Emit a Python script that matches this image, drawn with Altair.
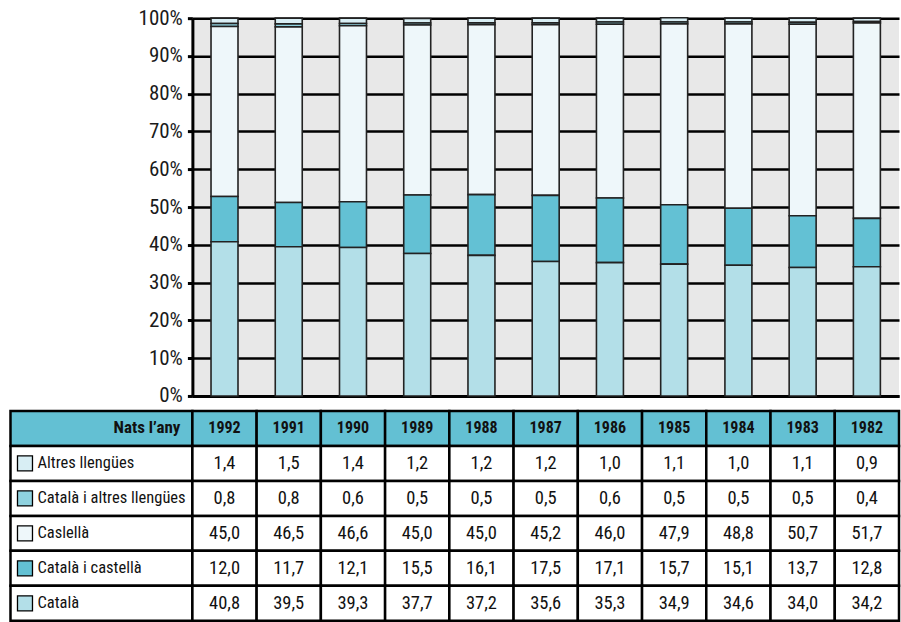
import altair as alt
import pandas as pd

# Year of birth (table columns, left to right)
years = ["1992", "1991", "1990", "1989", "1988", "1987",
         "1986", "1985", "1984", "1983", "1982"]

# Language spoken at home, % of children born each year
altres = [1.4, 1.5, 1.4, 1.2, 1.2, 1.2, 1.0, 1.1, 1.0, 1.1, 0.9]
catala_altres = [0.8, 0.8, 0.6, 0.5, 0.5, 0.5, 0.6, 0.5, 0.5, 0.5, 0.4]
castella = [45.0, 46.5, 46.6, 45.0, 45.0, 45.2, 46.0, 47.9, 48.8, 50.7, 51.7]
catala_castella = [12.0, 11.7, 12.1, 15.5, 16.1, 17.5, 17.1, 15.7, 15.1, 13.7, 12.8]
catala = [40.8, 39.5, 39.3, 37.7, 37.2, 35.6, 35.3, 34.9, 34.6, 34.0, 34.2]

# Table row order (top to bottom) and colours
series = ["Altres llengües", "Català i altres llengües", "Caslellà",
          "Català i castellà", "Català"]
values = [altres, catala_altres, castella, catala_castella, catala]
colors = ["#d8eef4", "#8fd2df", "#eef7fa", "#63c1d4", "#b3dfe8"]
header_label = "Nats l’any"
header_fill = "#63c0d3"

FONT = "Liberation Sans Narrow, Roboto Condensed, DejaVu Sans Condensed, sans-serif"
W = 707           # plot width
H = 378           # plot height
ROW = 35          # table row height
STEP = W / len(years)
LABEL_W = 182 / STEP   # first table column, in column units

# ---- stacked bars -------------------------------------------------------
bar_rows = []
for s_idx, (name, vals) in enumerate(zip(series, values)):
    for y, v in zip(years, vals):
        # stack from the bottom: Català first, Altres llengües last
        bar_rows.append({"any": y, "llengua": name, "pct": v,
                         "ordre": len(series) - 1 - s_idx})
bar_df = pd.DataFrame(bar_rows)

bars = alt.Chart(bar_df).mark_bar(stroke="#222222", strokeWidth=1.6).encode(
    x=alt.X("any:N", sort=years,
            scale=alt.Scale(paddingInner=0.58, paddingOuter=0.29),
            axis=alt.Axis(labels=False, ticks=False, title=None,
                          domainColor="black", domainWidth=3)),
    y=alt.Y("pct:Q", stack="zero",
            scale=alt.Scale(domain=[0, 100], nice=False),
            axis=alt.Axis(values=list(range(0, 101, 10)),
                          labelExpr="datum.value + '%'", title=None,
                          grid=True, gridColor="black", gridWidth=2.5,
                          domainColor="black", domainWidth=3,
                          tickColor="black", tickWidth=3, tickSize=5,
                          labelFont=FONT, labelFontSize=21,
                          labelColor="#1a1a1a", labelPadding=5)),
    color=alt.Color("llengua:N", scale=alt.Scale(domain=series, range=colors),
                    legend=None),
    order=alt.Order("ordre:Q"),
).properties(width=W, height=H,
             view=alt.ViewBackground(fill="#e8e8e8", stroke=None))

# ---- data table ---------------------------------------------------------
cells, texts, keys = [], [], []
for r in range(len(series) + 1):
    for c in range(-1, len(years)):
        x0 = -LABEL_W if c < 0 else c
        x1 = 0 if c < 0 else c + 1
        cells.append({"x0": x0, "x1": x1, "y0": r, "y1": r + 1,
                      "kind": "head" if r == 0 else "body"})
for c, y in enumerate(years):
    texts.append({"x": c + 0.5, "y": 0.5, "t": y, "kind": "head"})
for r, (name, vals) in enumerate(zip(series, values), start=1):
    for c, v in enumerate(vals):
        texts.append({"x": c + 0.5, "y": r + 0.5,
                      "t": f"{v:.1f}".replace(".", ","), "kind": "body"})
    keys.append({"x": -LABEL_W, "y": r + 0.5, "t": name, "llengua": name})

cell_df = pd.DataFrame(cells)
text_df = pd.DataFrame(texts)
key_df = pd.DataFrame(keys)

xs = alt.Scale(domain=[0, len(years)], nice=False, zero=False)
ys = alt.Scale(domain=[0, len(series) + 1], nice=False, zero=False, reverse=True)

grid = alt.Chart(cell_df).mark_rect(stroke="black", strokeWidth=2.5).encode(
    x=alt.X("x0:Q", scale=xs, axis=None), x2="x1",
    y=alt.Y("y0:Q", scale=ys, axis=None), y2="y1",
    fill=alt.Fill("kind:N", scale=alt.Scale(domain=["head", "body"],
                                            range=[header_fill, "white"]),
                  legend=None),
)

year_text = alt.Chart(text_df).transform_filter(
    alt.datum.kind == "head").mark_text(
    font=FONT, fontSize=16, fontWeight="bold", color="#111",
    align="center", baseline="middle").encode(
    x=alt.X("x:Q", scale=xs, axis=None),
    y=alt.Y("y:Q", scale=ys, axis=None), text="t:N")

val_text = alt.Chart(text_df).transform_filter(
    alt.datum.kind == "body").mark_text(
    font=FONT, fontSize=18.5, color="#111",
    align="center", baseline="middle").encode(
    x=alt.X("x:Q", scale=xs, axis=None),
    y=alt.Y("y:Q", scale=ys, axis=None), text="t:N")

head_label = alt.Chart(pd.DataFrame({"x": [0], "y": [0.5], "t": [header_label]})
                       ).mark_text(
    font=FONT, fontSize=17, fontWeight="bold", color="#111",
    align="right", baseline="middle", dx=-12).encode(
    x=alt.X("x:Q", scale=xs, axis=None),
    y=alt.Y("y:Q", scale=ys, axis=None), text="t:N")

key_box = alt.Chart(key_df).mark_square(
    size=225, stroke="black", strokeWidth=1.3, opacity=1, filled=True,
    xOffset=14.5).encode(
    x=alt.X("x:Q", scale=xs, axis=None),
    y=alt.Y("y:Q", scale=ys, axis=None),
    color=alt.Color("llengua:N", scale=alt.Scale(domain=series, range=colors),
                    legend=None))

key_text = alt.Chart(key_df).mark_text(
    font=FONT, fontSize=16.5, color="#111",
    align="left", baseline="middle", dx=27).encode(
    x=alt.X("x:Q", scale=xs, axis=None),
    y=alt.Y("y:Q", scale=ys, axis=None), text="t:N")

table = alt.layer(grid, year_text, val_text, head_label, key_box, key_text
                  ).resolve_scale(fill="independent", color="independent"
                  ).properties(width=W, height=ROW * (len(series) + 1),
                               view=alt.ViewBackground(fill=None, stroke=None))

chart = alt.vconcat(bars, table, spacing=15, bounds="flush").resolve_scale(
    x="independent", y="independent", color="independent", fill="independent"
).properties(padding={"left": 8.5, "top": 7, "right": 0, "bottom": 0},
             background="white")

chart.save("out.html", embed_options={"renderer": "svg", "actions": False})
